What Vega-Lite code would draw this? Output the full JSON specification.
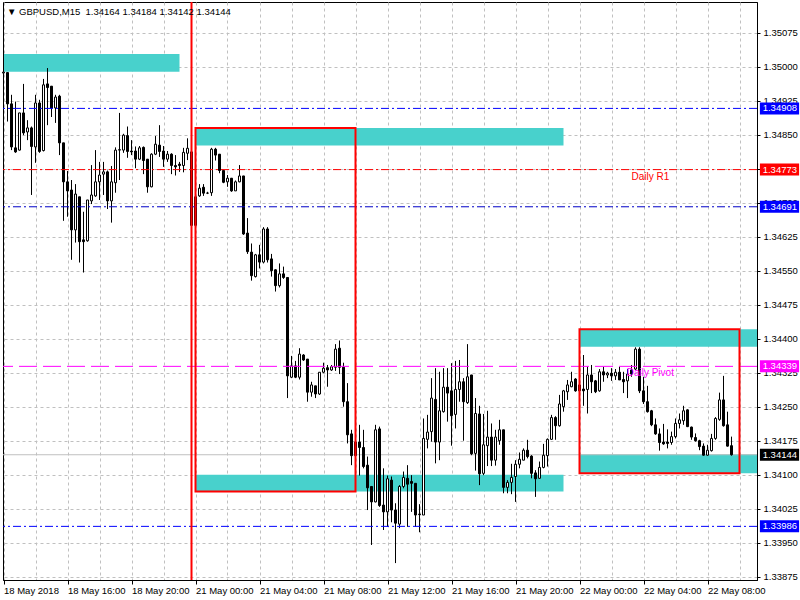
{
  "$schema": "https://vega.github.io/schema/vega-lite/v6.json",
  "width": 754,
  "height": 578,
  "autosize": {"type": "none"},
  "padding": {"left": 3, "top": 2, "right": 43, "bottom": 20},
  "background": "#ffffff",
  "title": {
    "text": "▼ GBPUSD,M15 \u00a01.34164 1.34184 1.34142 1.34144",
    "anchor": "start",
    "frame": "group",
    "orient": "top",
    "baseline": "alphabetic",
    "offset": -23,
    "dx": 4,
    "font": "Liberation Sans",
    "fontSize": 9.5,
    "fontWeight": "normal",
    "color": "#000000"
  },
  "datasets": {
    "candles": [
      {"i":0,"o":1.34986,"h":1.35077,"l":1.34944,"c":1.34988},
      {"i":1,"o":1.34987,"h":1.34988,"l":1.34879,"c":1.34918},
      {"i":2,"o":1.34918,"h":1.34938,"l":1.34816,"c":1.34823},
      {"i":3,"o":1.34821,"h":1.34923,"l":1.34810,"c":1.34812},
      {"i":4,"o":1.34816,"h":1.34898,"l":1.34815,"c":1.34898},
      {"i":5,"o":1.34898,"h":1.34962,"l":1.34849,"c":1.34854},
      {"i":6,"o":1.34856,"h":1.34882,"l":1.34838,"c":1.34865},
      {"i":7,"o":1.34865,"h":1.34868,"l":1.34717,"c":1.34824},
      {"i":8,"o":1.34823,"h":1.34938,"l":1.34788,"c":1.34920},
      {"i":9,"o":1.34920,"h":1.34927,"l":1.34810,"c":1.34813},
      {"i":10,"o":1.34815,"h":1.34973,"l":1.34813,"c":1.34960},
      {"i":11,"o":1.34962,"h":1.34997,"l":1.34871,"c":1.34954},
      {"i":12,"o":1.34957,"h":1.34957,"l":1.34889,"c":1.34909},
      {"i":13,"o":1.34909,"h":1.34938,"l":1.34876,"c":1.34933},
      {"i":14,"o":1.34935,"h":1.34938,"l":1.34805,"c":1.34832},
      {"i":15,"o":1.34832,"h":1.34832,"l":1.34660,"c":1.34746},
      {"i":16,"o":1.34746,"h":1.34770,"l":1.34669,"c":1.34726},
      {"i":17,"o":1.34728,"h":1.34750,"l":1.34574,"c":1.34640},
      {"i":18,"o":1.34640,"h":1.34741,"l":1.34612,"c":1.34719},
      {"i":19,"o":1.34713,"h":1.34713,"l":1.34568,"c":1.34614},
      {"i":20,"o":1.34618,"h":1.34680,"l":1.34546,"c":1.34614},
      {"i":21,"o":1.34616,"h":1.34706,"l":1.34614,"c":1.34706},
      {"i":22,"o":1.34704,"h":1.34783,"l":1.34697,"c":1.34717},
      {"i":23,"o":1.34715,"h":1.34816,"l":1.34713,"c":1.34746},
      {"i":24,"o":1.34746,"h":1.34790,"l":1.34706,"c":1.34761},
      {"i":25,"o":1.34763,"h":1.34790,"l":1.34717,"c":1.34768},
      {"i":26,"o":1.34768,"h":1.34771,"l":1.34686,"c":1.34704},
      {"i":27,"o":1.34704,"h":1.34781,"l":1.34656,"c":1.34746},
      {"i":28,"o":1.34744,"h":1.34822,"l":1.34722,"c":1.34816},
      {"i":29,"o":1.34816,"h":1.34898,"l":1.34750,"c":1.34817},
      {"i":30,"o":1.34816,"h":1.34852,"l":1.34810,"c":1.34849},
      {"i":31,"o":1.34848,"h":1.34868,"l":1.34799,"c":1.34813},
      {"i":32,"o":1.34814,"h":1.34838,"l":1.34805,"c":1.34812},
      {"i":33,"o":1.34814,"h":1.34824,"l":1.34776,"c":1.34796},
      {"i":34,"o":1.34796,"h":1.34825,"l":1.34794,"c":1.34821},
      {"i":35,"o":1.34822,"h":1.34824,"l":1.34763,"c":1.34793},
      {"i":36,"o":1.34796,"h":1.34796,"l":1.34722,"c":1.34735},
      {"i":37,"o":1.34735,"h":1.34809,"l":1.34734,"c":1.34807},
      {"i":38,"o":1.34807,"h":1.34847,"l":1.34805,"c":1.34829},
      {"i":39,"o":1.34827,"h":1.34871,"l":1.34801,"c":1.34813},
      {"i":40,"o":1.34814,"h":1.34825,"l":1.34779,"c":1.34796},
      {"i":41,"o":1.34796,"h":1.34814,"l":1.34790,"c":1.34807},
      {"i":42,"o":1.34807,"h":1.34809,"l":1.34763,"c":1.34782},
      {"i":43,"o":1.34782,"h":1.34805,"l":1.34760,"c":1.34779},
      {"i":44,"o":1.34785,"h":1.34790,"l":1.34768,"c":1.34782},
      {"i":45,"o":1.34782,"h":1.34821,"l":1.34767,"c":1.34811},
      {"i":46,"o":1.34809,"h":1.34842,"l":1.34794,"c":1.34820},
      {"i":47,"o":1.34812,"h":1.34816,"l":1.34640,"c":1.34650},
      {"i":48,"o":1.34650,"h":1.34739,"l":1.34635,"c":1.34713},
      {"i":49,"o":1.34715,"h":1.34741,"l":1.34713,"c":1.34732},
      {"i":50,"o":1.34734,"h":1.34741,"l":1.34715,"c":1.34721},
      {"i":51,"o":1.34721,"h":1.34724,"l":1.34719,"c":1.34721},
      {"i":52,"o":1.34722,"h":1.34821,"l":1.34715,"c":1.34818},
      {"i":53,"o":1.34818,"h":1.34821,"l":1.34793,"c":1.34805},
      {"i":54,"o":1.34807,"h":1.34807,"l":1.34765,"c":1.34771},
      {"i":55,"o":1.34771,"h":1.34771,"l":1.34743,"c":1.34745},
      {"i":56,"o":1.34746,"h":1.34761,"l":1.34735,"c":1.34754},
      {"i":57,"o":1.34754,"h":1.34754,"l":1.34724,"c":1.34726},
      {"i":58,"o":1.34726,"h":1.34749,"l":1.34726,"c":1.34746},
      {"i":59,"o":1.34746,"h":1.34783,"l":1.34745,"c":1.34759},
      {"i":60,"o":1.34759,"h":1.34759,"l":1.34629,"c":1.34631},
      {"i":61,"o":1.34633,"h":1.34666,"l":1.34587,"c":1.34592},
      {"i":62,"o":1.34591,"h":1.34610,"l":1.34528,"c":1.34539},
      {"i":63,"o":1.34537,"h":1.34587,"l":1.34535,"c":1.34585},
      {"i":64,"o":1.34585,"h":1.34607,"l":1.34555,"c":1.34569},
      {"i":65,"o":1.34569,"h":1.34646,"l":1.34566,"c":1.34642},
      {"i":66,"o":1.34642,"h":1.34646,"l":1.34568,"c":1.34574},
      {"i":67,"o":1.34576,"h":1.34587,"l":1.34537,"c":1.34550},
      {"i":68,"o":1.34552,"h":1.34553,"l":1.34504,"c":1.34517},
      {"i":69,"o":1.34517,"h":1.34566,"l":1.34513,"c":1.34543},
      {"i":70,"o":1.34543,"h":1.34559,"l":1.34532,"c":1.34535},
      {"i":71,"o":1.34535,"h":1.34535,"l":1.34269,"c":1.34318},
      {"i":72,"o":1.34315,"h":1.34362,"l":1.34313,"c":1.34340},
      {"i":73,"o":1.34340,"h":1.34351,"l":1.34313,"c":1.34315},
      {"i":74,"o":1.34315,"h":1.34379,"l":1.34310,"c":1.34366},
      {"i":75,"o":1.34364,"h":1.34366,"l":1.34351,"c":1.34353},
      {"i":76,"o":1.34355,"h":1.34355,"l":1.34261,"c":1.34282},
      {"i":77,"o":1.34282,"h":1.34305,"l":1.34272,"c":1.34298},
      {"i":78,"o":1.34296,"h":1.34296,"l":1.34269,"c":1.34278},
      {"i":79,"o":1.34278,"h":1.34326,"l":1.34276,"c":1.34326},
      {"i":80,"o":1.34326,"h":1.34347,"l":1.34324,"c":1.34335},
      {"i":81,"o":1.34336,"h":1.34342,"l":1.34294,"c":1.34331},
      {"i":82,"o":1.34331,"h":1.34342,"l":1.34329,"c":1.34338},
      {"i":83,"o":1.34337,"h":1.34388,"l":1.34329,"c":1.34377},
      {"i":84,"o":1.34379,"h":1.34396,"l":1.34322,"c":1.34337},
      {"i":85,"o":1.34337,"h":1.34347,"l":1.34250,"c":1.34261},
      {"i":86,"o":1.34261,"h":1.34302,"l":1.34169,"c":1.34188},
      {"i":87,"o":1.34190,"h":1.34199,"l":1.34121,"c":1.34142},
      {"i":88,"o":1.34142,"h":1.34199,"l":1.34121,"c":1.34172},
      {"i":89,"o":1.34172,"h":1.34210,"l":1.34098,"c":1.34160},
      {"i":90,"o":1.34160,"h":1.34199,"l":1.34114,"c":1.34118},
      {"i":91,"o":1.34121,"h":1.34140,"l":1.34022,"c":1.34071},
      {"i":92,"o":1.34074,"h":1.34075,"l":1.33945,"c":1.34040},
      {"i":93,"o":1.34040,"h":1.34210,"l":1.34039,"c":1.34199},
      {"i":94,"o":1.34201,"h":1.34206,"l":1.34029,"c":1.34032},
      {"i":95,"o":1.34033,"h":1.34114,"l":1.33978,"c":1.34018},
      {"i":96,"o":1.34018,"h":1.34098,"l":1.33985,"c":1.34091},
      {"i":97,"o":1.34088,"h":1.34096,"l":1.33995,"c":1.34022},
      {"i":98,"o":1.34022,"h":1.34037,"l":1.33905,"c":1.33993},
      {"i":99,"o":1.33991,"h":1.34077,"l":1.33982,"c":1.34074},
      {"i":100,"o":1.34074,"h":1.34107,"l":1.34070,"c":1.34094},
      {"i":101,"o":1.34092,"h":1.34121,"l":1.33985,"c":1.34079},
      {"i":102,"o":1.34085,"h":1.34099,"l":1.34018,"c":1.34081},
      {"i":103,"o":1.34081,"h":1.34081,"l":1.33985,"c":1.34011},
      {"i":104,"o":1.34013,"h":1.34035,"l":1.33973,"c":1.34012},
      {"i":105,"o":1.34011,"h":1.34224,"l":1.34011,"c":1.34180},
      {"i":106,"o":1.34178,"h":1.34232,"l":1.34158,"c":1.34194},
      {"i":107,"o":1.34195,"h":1.34313,"l":1.34173,"c":1.34269},
      {"i":108,"o":1.34266,"h":1.34335,"l":1.34125,"c":1.34172},
      {"i":109,"o":1.34172,"h":1.34327,"l":1.34132,"c":1.34241},
      {"i":110,"o":1.34239,"h":1.34335,"l":1.34237,"c":1.34293},
      {"i":111,"o":1.34293,"h":1.34335,"l":1.34217,"c":1.34280},
      {"i":112,"o":1.34285,"h":1.34346,"l":1.34164,"c":1.34230},
      {"i":113,"o":1.34233,"h":1.34351,"l":1.34202,"c":1.34288},
      {"i":114,"o":1.34288,"h":1.34353,"l":1.34261,"c":1.34305},
      {"i":115,"o":1.34305,"h":1.34313,"l":1.34175,"c":1.34261},
      {"i":116,"o":1.34259,"h":1.34388,"l":1.34256,"c":1.34316},
      {"i":117,"o":1.34320,"h":1.34320,"l":1.34143,"c":1.34146},
      {"i":118,"o":1.34147,"h":1.34269,"l":1.34109,"c":1.34235},
      {"i":119,"o":1.34234,"h":1.34252,"l":1.34077,"c":1.34102},
      {"i":120,"o":1.34103,"h":1.34234,"l":1.34099,"c":1.34166},
      {"i":121,"o":1.34164,"h":1.34241,"l":1.34119,"c":1.34183},
      {"i":122,"o":1.34183,"h":1.34213,"l":1.34119,"c":1.34132},
      {"i":123,"o":1.34132,"h":1.34199,"l":1.34120,"c":1.34183},
      {"i":124,"o":1.34175,"h":1.34221,"l":1.34166,"c":1.34199},
      {"i":125,"o":1.34199,"h":1.34199,"l":1.34059,"c":1.34072},
      {"i":126,"o":1.34072,"h":1.34088,"l":1.34059,"c":1.34083},
      {"i":127,"o":1.34083,"h":1.34124,"l":1.34057,"c":1.34094},
      {"i":128,"o":1.34096,"h":1.34132,"l":1.34040,"c":1.34123},
      {"i":129,"o":1.34123,"h":1.34149,"l":1.34114,"c":1.34134},
      {"i":130,"o":1.34132,"h":1.34158,"l":1.34132,"c":1.34154},
      {"i":131,"o":1.34154,"h":1.34177,"l":1.34136,"c":1.34140},
      {"i":132,"o":1.34141,"h":1.34143,"l":1.34092,"c":1.34103},
      {"i":133,"o":1.34104,"h":1.34110,"l":1.34051,"c":1.34091},
      {"i":134,"o":1.34092,"h":1.34129,"l":1.34091,"c":1.34116},
      {"i":135,"o":1.34116,"h":1.34168,"l":1.34114,"c":1.34143},
      {"i":136,"o":1.34142,"h":1.34180,"l":1.34118,"c":1.34178},
      {"i":137,"o":1.34178,"h":1.34232,"l":1.34177,"c":1.34226},
      {"i":138,"o":1.34226,"h":1.34229,"l":1.34177,"c":1.34208},
      {"i":139,"o":1.34208,"h":1.34276,"l":1.34206,"c":1.34256},
      {"i":140,"o":1.34250,"h":1.34287,"l":1.34239,"c":1.34285},
      {"i":141,"o":1.34283,"h":1.34309,"l":1.34265,"c":1.34298},
      {"i":142,"o":1.34294,"h":1.34327,"l":1.34293,"c":1.34305},
      {"i":143,"o":1.34311,"h":1.34313,"l":1.34283,"c":1.34285},
      {"i":144,"o":1.34285,"h":1.34320,"l":1.34265,"c":1.34298},
      {"i":145,"o":1.34289,"h":1.34364,"l":1.34252,"c":1.34285},
      {"i":146,"o":1.34288,"h":1.34338,"l":1.34235,"c":1.34320},
      {"i":147,"o":1.34320,"h":1.34342,"l":1.34280,"c":1.34305},
      {"i":148,"o":1.34307,"h":1.34309,"l":1.34280,"c":1.34283},
      {"i":149,"o":1.34285,"h":1.34333,"l":1.34283,"c":1.34327},
      {"i":150,"o":1.34327,"h":1.34338,"l":1.34305,"c":1.34320},
      {"i":151,"o":1.34320,"h":1.34327,"l":1.34313,"c":1.34324},
      {"i":152,"o":1.34324,"h":1.34335,"l":1.34307,"c":1.34318},
      {"i":153,"o":1.34318,"h":1.34333,"l":1.34309,"c":1.34326},
      {"i":154,"o":1.34326,"h":1.34338,"l":1.34309,"c":1.34309},
      {"i":155,"o":1.34310,"h":1.34327,"l":1.34280,"c":1.34305},
      {"i":156,"o":1.34307,"h":1.34333,"l":1.34269,"c":1.34322},
      {"i":157,"o":1.34331,"h":1.34342,"l":1.34316,"c":1.34322},
      {"i":158,"o":1.34333,"h":1.34381,"l":1.34331,"c":1.34377},
      {"i":159,"o":1.34377,"h":1.34381,"l":1.34280,"c":1.34285},
      {"i":160,"o":1.34285,"h":1.34316,"l":1.34256,"c":1.34261},
      {"i":161,"o":1.34261,"h":1.34296,"l":1.34237,"c":1.34239},
      {"i":162,"o":1.34241,"h":1.34243,"l":1.34207,"c":1.34210},
      {"i":163,"o":1.34210,"h":1.34224,"l":1.34188,"c":1.34190},
      {"i":164,"o":1.34190,"h":1.34202,"l":1.34153,"c":1.34171},
      {"i":165,"o":1.34172,"h":1.34212,"l":1.34166,"c":1.34168},
      {"i":166,"o":1.34172,"h":1.34200,"l":1.34158,"c":1.34169},
      {"i":167,"o":1.34171,"h":1.34195,"l":1.34166,"c":1.34184},
      {"i":168,"o":1.34184,"h":1.34224,"l":1.34180,"c":1.34213},
      {"i":169,"o":1.34213,"h":1.34235,"l":1.34202,"c":1.34221},
      {"i":170,"o":1.34219,"h":1.34252,"l":1.34210,"c":1.34241},
      {"i":171,"o":1.34243,"h":1.34244,"l":1.34205,"c":1.34206},
      {"i":172,"o":1.34205,"h":1.34206,"l":1.34177,"c":1.34183},
      {"i":173,"o":1.34182,"h":1.34191,"l":1.34173,"c":1.34175},
      {"i":174,"o":1.34175,"h":1.34177,"l":1.34154,"c":1.34162},
      {"i":175,"o":1.34163,"h":1.34169,"l":1.34142,"c":1.34143},
      {"i":176,"o":1.34143,"h":1.34166,"l":1.34142,"c":1.34154},
      {"i":177,"o":1.34153,"h":1.34190,"l":1.34151,"c":1.34180},
      {"i":178,"o":1.34180,"h":1.34227,"l":1.34177,"c":1.34224},
      {"i":179,"o":1.34222,"h":1.34281,"l":1.34219,"c":1.34265},
      {"i":180,"o":1.34265,"h":1.34318,"l":1.34206,"c":1.34208},
      {"i":181,"o":1.34210,"h":1.34239,"l":1.34162,"c":1.34163},
      {"i":182,"o":1.34164,"h":1.34184,"l":1.34142,"c":1.34144}
    ],
    "zones": [
      {"from": -1, "to": 44, "lo": 1.34989, "hi": 1.35028},
      {"from": 48, "to": 140, "lo": 1.34826, "hi": 1.34865},
      {"from": 48, "to": 140, "lo": 1.34063, "hi": 1.34100},
      {"from": 144, "to": 200, "lo": 1.34382, "hi": 1.34421},
      {"from": 144, "to": 200, "lo": 1.34103, "hi": 1.34145}
    ],
    "ranges": [
      {"from": 48, "to": 88, "lo": 1.34063, "hi": 1.34865},
      {"from": 144, "to": 184, "lo": 1.34103, "hi": 1.34421}
    ],
    "separator": [{"i": 47}],
    "levels": [
      {"price": 1.34908, "kind": "upper"},
      {"price": 1.34773, "kind": "r1", "label": "Daily R1"},
      {"price": 1.34691, "kind": "mid"},
      {"price": 1.34339, "kind": "pivot", "label": "Daily Pivot"},
      {"price": 1.33986, "kind": "lower"},
      {"price": 1.34144, "kind": "bid"}
    ]
  },
  "config": {
    "view": {"stroke": "#000000", "strokeWidth": 1},
    "axis": {
      "labelFont": "Liberation Sans",
      "labelFontSize": 9.5,
      "labelColor": "#000000",
      "domainColor": "#000000",
      "tickColor": "#000000",
      "gridColor": "#c0c0c0",
      "gridDash": [3, 3],
      "gridWidth": 1,
      "labelOverlap": false,
      "labelFlush": false,
      "labelBound": false
    },
    "scale": {"zero": false, "continuousPadding": 0}
  },
  "layer": [
    {
      "data": {"name": "zones"},
      "mark": {"type": "rect", "color": "#48d1cc", "clip": true},
      "encoding": {
        "x": {"field": "from", "type": "quantitative", "title": null,
              "scale": {"domain": [-0.125, 188.375], "nice": false, "zero": false, "padding": 0},
              "axis": {
                "orient": "bottom",
                "values": [0, 8, 16, 24, 32, 40, 48, 56, 64, 72, 80, 88, 96, 104, 112, 120, 128, 136, 144, 152, 160, 168, 176, 184],
                "tickCount": 200,
                "labelExpr": "datum.value % 16 === 0 ? ['18 May 2018','18 May 16:00','18 May 20:00','21 May 00:00','21 May 04:00','21 May 08:00','21 May 12:00','21 May 16:00','21 May 20:00','22 May 00:00','22 May 04:00','22 May 08:00'][datum.value / 16] : ''",
                "labelAlign": "left",
                "labelBaseline": "top",
                "labelPadding": 1,
                "labelOverlap": false,
                "labelFlush": false,
                "labelBound": false,
                "tickSize": 4,
                "tickOpacity": {"condition": {"test": "datum.value % 16 === 0", "value": 1}, "value": 0},
                "grid": true,
                "domain": true
              }},
        "x2": {"field": "to"},
        "y": {"field": "lo", "type": "quantitative", "title": null,
              "scale": {"domain": [1.338677, 1.351427], "nice": false, "zero": false, "padding": 0},
              "axis": {
                "orient": "right",
                "values": [1.33875, 1.3395, 1.34025, 1.341, 1.34175, 1.3425, 1.34325, 1.344, 1.34475, 1.3455, 1.34625, 1.347, 1.34775, 1.3485, 1.34925, 1.35, 1.35075],
                "tickCount": 200,
                "format": ".5f",
                "tickSize": 3,
                "labelPadding": 3,
                "labelAlign": "left",
                "labelBaseline": "middle",
                "labelOverlap": false,
                "labelFlush": false,
                "labelBound": false,
                "grid": true,
                "domain": true
              }},
        "y2": {"field": "hi"}
      }
    },
    {
      "data": {"name": "levels"},
      "transform": [{"filter": "datum.kind === 'bid'"}],
      "mark": {"type": "rule", "color": "#c0c0c0", "strokeWidth": 1},
      "encoding": {
        "y": {"field": "price", "type": "quantitative", "title": null,
              "scale": {"domain": [1.338677, 1.351427], "nice": false, "zero": false, "padding": 0}}
      }
    },
    {
      "data": {"name": "candles"},
      "mark": {"type": "rule", "color": "#000000", "strokeWidth": 1},
      "encoding": {
        "x": {"field": "i", "type": "quantitative", "title": null,
              "scale": {"domain": [-0.125, 188.375], "nice": false, "zero": false, "padding": 0}},
        "y": {"field": "l", "type": "quantitative", "title": null,
              "scale": {"domain": [1.338677, 1.351427], "nice": false, "zero": false, "padding": 0}},
        "y2": {"field": "h"}
      }
    },
    {
      "data": {"name": "candles"},
      "mark": {"type": "bar", "size": 2, "stroke": "#000000", "strokeWidth": 1},
      "encoding": {
        "x": {"field": "i", "type": "quantitative", "title": null,
              "scale": {"domain": [-0.125, 188.375], "nice": false, "zero": false, "padding": 0}},
        "y": {"field": "o", "type": "quantitative", "title": null,
              "scale": {"domain": [1.338677, 1.351427], "nice": false, "zero": false, "padding": 0}},
        "y2": {"field": "c"},
        "fill": {"condition": {"test": "datum.c >= datum.o", "value": "#ffffff"}, "value": "#000000"}
      }
    },
    {
      "data": {"name": "levels"},
      "transform": [{"filter": "datum.kind !== 'bid'"}],
      "mark": {"type": "rule", "strokeWidth": 1},
      "encoding": {
        "y": {"field": "price", "type": "quantitative", "title": null,
              "scale": {"domain": [1.338677, 1.351427], "nice": false, "zero": false, "padding": 0}},
        "stroke": {"field": "kind", "type": "nominal", "legend": null,
                   "scale": {"domain": ["upper", "r1", "mid", "pivot", "lower"],
                             "range": ["#0000ff", "#ff0000", "#0000c8", "#ff00ff", "#0000ff"]}},
        "strokeDash": {"field": "kind", "type": "nominal", "legend": null,
                       "scale": {"domain": ["upper", "r1", "mid", "pivot", "lower"],
                                 "range": [[8, 3, 2, 3], [8, 3, 2, 3], [8, 3, 2, 3], [18, 6], [8, 3, 2, 3]]}}
      }
    },
    {
      "data": {"name": "ranges"},
      "mark": {"type": "rect", "filled": false, "stroke": "#ff0000", "strokeWidth": 2},
      "encoding": {
        "x": {"field": "from", "type": "quantitative", "title": null,
              "scale": {"domain": [-0.125, 188.375], "nice": false, "zero": false, "padding": 0}},
        "x2": {"field": "to"},
        "y": {"field": "lo", "type": "quantitative", "title": null,
              "scale": {"domain": [1.338677, 1.351427], "nice": false, "zero": false, "padding": 0}},
        "y2": {"field": "hi"}
      }
    },
    {
      "data": {"name": "separator"},
      "mark": {"type": "rule", "color": "#ff0000", "strokeWidth": 2},
      "encoding": {
        "x": {"field": "i", "type": "quantitative", "title": null,
              "scale": {"domain": [-0.125, 188.375], "nice": false, "zero": false, "padding": 0}}
      }
    },
    {
      "data": {"name": "levels"},
      "transform": [{"filter": "isValid(datum.label)"}],
      "mark": {"type": "text", "align": "center", "baseline": "alphabetic", "dy": 10,
               "font": "Liberation Sans", "fontSize": 10},
      "encoding": {
        "x": {"datum": 161.7, "type": "quantitative",
              "scale": {"domain": [-0.125, 188.375], "nice": false, "zero": false, "padding": 0}},
        "y": {"field": "price", "type": "quantitative", "title": null,
              "scale": {"domain": [1.338677, 1.351427], "nice": false, "zero": false, "padding": 0}},
        "text": {"field": "label"},
        "color": {"field": "kind", "type": "nominal", "legend": null,
                  "scale": {"domain": ["r1", "pivot"], "range": ["#ff0000", "#ff00ff"]}}
      }
    },
    {
      "data": {"name": "levels"},
      "mark": {"type": "bar", "height": 12},
      "encoding": {
        "x": {"datum": 189.1, "type": "quantitative",
              "scale": {"domain": [-0.125, 188.375], "nice": false, "zero": false, "padding": 0}},
        "x2": {"datum": 198.9},
        "y": {"field": "price", "type": "quantitative", "title": null,
              "scale": {"domain": [1.338677, 1.351427], "nice": false, "zero": false, "padding": 0}},
        "fill": {"field": "kind", "type": "nominal", "legend": null,
                 "scale": {"domain": ["upper", "r1", "mid", "pivot", "lower", "bid"],
                           "range": ["#0000ff", "#ff0000", "#0000ff", "#ff00ff", "#0000ff", "#000000"]}}
      }
    },
    {
      "data": {"name": "levels"},
      "mark": {"type": "text", "align": "left", "baseline": "middle", "color": "#ffffff",
               "font": "Liberation Sans", "fontSize": 9.5},
      "encoding": {
        "x": {"datum": 189.8, "type": "quantitative",
              "scale": {"domain": [-0.125, 188.375], "nice": false, "zero": false, "padding": 0}},
        "y": {"field": "price", "type": "quantitative", "title": null,
              "scale": {"domain": [1.338677, 1.351427], "nice": false, "zero": false, "padding": 0}},
        "text": {"field": "price", "type": "quantitative", "format": ".5f"}
      }
    }
  ]
}
